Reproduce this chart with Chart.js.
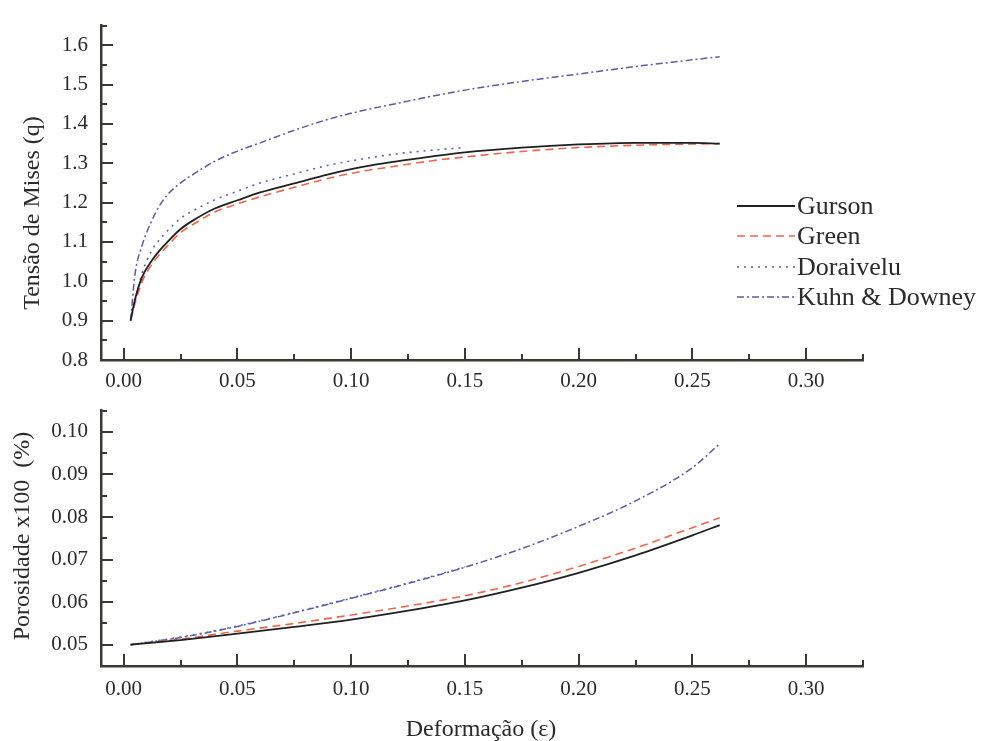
<!DOCTYPE html>
<html>
<head>
<meta charset="utf-8">
<script src="https://cdn.jsdelivr.net/npm/chart.js@4.4.1/dist/chart.umd.min.js"></script>
<style>
  html, body { margin: 0; padding: 0; background: #fff; }
  #wrap { position: relative; width: 983px; height: 741px; overflow: hidden; background: #fff; }
  canvas { position: absolute; left: 0; }
  #stress { top: 0; }
  #porosity { top: 385px; }
</style>
</head>
<body>
<div id="wrap">
  <canvas id="stress" width="983" height="400" style="width:983px;height:400px"></canvas>
  <canvas id="porosity" width="983" height="356" style="width:983px;height:356px"></canvas>
</div>
<script>
// ---- strain grids ----
const strainTop = [0.003, 0.005, 0.008, 0.012, 0.016, 0.020, 0.025, 0.030, 0.040, 0.050, 0.060,
                   0.075, 0.090, 0.105, 0.120, 0.135, 0.150, 0.175, 0.200, 0.225, 0.250, 0.262];
const strainBottom = [0.003, 0.025, 0.050, 0.075, 0.100, 0.125, 0.150, 0.175, 0.200, 0.225, 0.250, 0.262];

// ---- von Mises stress (q) ----
const qGurson    = [0.900, 0.955, 1.010, 1.050, 1.080, 1.105, 1.133, 1.153, 1.185, 1.206, 1.226,
                    1.249, 1.272, 1.291, 1.305, 1.317, 1.328, 1.340, 1.348, 1.352, 1.352, 1.350];
const qGreen     = [0.900, 0.945, 0.998, 1.040, 1.070, 1.095, 1.124, 1.143, 1.176, 1.197, 1.215,
                    1.239, 1.262, 1.280, 1.293, 1.306, 1.316, 1.330, 1.340, 1.346, 1.349, 1.350];
const qDoraivelu = [0.900, 0.950, 1.020, 1.075, 1.108, 1.133, 1.160, 1.178, 1.207, 1.229, 1.250,
                    1.273, 1.295, 1.311, 1.324, 1.333, 1.340];
const qKuhn      = [0.900, 1.020, 1.090, 1.150, 1.195, 1.225, 1.250, 1.270, 1.305, 1.331, 1.352,
                    1.384, 1.412, 1.434, 1.452, 1.470, 1.486, 1.508, 1.527, 1.546, 1.563, 1.571];

// ---- porosity x100 (%) ----
const fGurson    = [0.0500, 0.0511, 0.0526, 0.0542, 0.0559, 0.0580, 0.0604, 0.0634, 0.0669, 0.0710, 0.0757, 0.0781];
const fGreen     = [0.0500, 0.0513, 0.0532, 0.0550, 0.0570, 0.0591, 0.0615, 0.0646, 0.0684, 0.0727, 0.0775, 0.0798];
const fDoraivelu = [0.0500, 0.0518, 0.0544, 0.0576, 0.0610, 0.0645, 0.0683];
const fKuhn      = [0.0500, 0.0517, 0.0543, 0.0575, 0.0609, 0.0644, 0.0682, 0.0726, 0.0778, 0.0838, 0.0916, 0.0972];

// ---- tick labels ----
const strainTicks = [0.00, 0.05, 0.10, 0.15, 0.20, 0.25, 0.30];
const stressTicks = [0.8, 0.9, 1.0, 1.1, 1.2, 1.3, 1.4, 1.5, 1.6];
const porosityTicks = [0.05, 0.06, 0.07, 0.08, 0.09, 0.10];

const seriesNames = ['Gurson', 'Green', 'Doraivelu', 'Kuhn & Downey'];

const AXIS = '#3a3a33';
const TEXT = '#2b2b2b';
const SERIF = '"Liberation Serif", "Times New Roman", serif';

const styles = [
  { borderColor: '#1f1f1f', borderWidth: 1.8, borderDash: [] },
  { borderColor: '#f0644a', borderWidth: 1.6, borderDash: [8, 5] },
  { borderColor: '#5566bb', borderWidth: 1.6, borderDash: [2, 5] },
  { borderColor: '#5a5aa6', borderWidth: 1.5, borderDash: [7, 3, 2, 3] }
];

function points(xs, ys) {
  return ys.map((y, i) => ({ x: xs[i], y: y }));
}

function makeDatasets(xs, seriesList) {
  return seriesList.map((ys, i) => Object.assign({
    label: seriesNames[i],
    data: points(xs, ys),
    pointRadius: 0,
    fill: false,
    cubicInterpolationMode: 'monotone'
  }, styles[i]));
}

// inward major/minor tick marks along both axes
const tickMarks = {
  id: 'tickMarks',
  afterDraw(chart, args, opts) {
    const ctx = chart.ctx, a = chart.chartArea;
    ctx.save();
    ctx.strokeStyle = AXIS;
    ctx.lineWidth = 2;
    const marks = (scale, major, minor, horizontal) => {
      const eps = 1e-9;
      const k0 = Math.ceil(scale.min / minor - eps), k1 = Math.floor(scale.max / minor + eps);
      for (let k = k0; k <= k1; k++) {
        const v = k * minor;
        const r = v / major;
        const isMajor = Math.abs(r - Math.round(r)) < 1e-6;
        const len = isMajor ? 12 : 6;
        const p = Math.round(scale.getPixelForValue(v));
        ctx.beginPath();
        if (horizontal) { ctx.moveTo(p, a.bottom); ctx.lineTo(p, a.bottom - len); }
        else { ctx.moveTo(a.left, p); ctx.lineTo(a.left + len, p); }
        ctx.stroke();
      }
    };
    marks(chart.scales.x, opts.xMajor, opts.xMinor, true);
    marks(chart.scales.y, opts.yMajor, opts.yMinor, false);
    ctx.restore();
  }
};

// axis titles placed beside the plot
const axisTitles = {
  id: 'axisTitles',
  afterDraw(chart, args, opts) {
    const ctx = chart.ctx;
    (opts.items || []).forEach(t => {
      ctx.save();
      ctx.fillStyle = TEXT;
      ctx.font = t.font;
      ctx.textAlign = 'center';
      ctx.textBaseline = 'middle';
      ctx.translate(t.x, t.y);
      if (t.rotate) ctx.rotate(-Math.PI / 2);
      ctx.fillText(t.text, 0, 0);
      ctx.restore();
    });
  }
};

// series key to the right of the stress plot
const seriesKey = {
  id: 'seriesKey',
  afterDraw(chart, args, opts) {
    if (!opts.display) return;
    const ctx = chart.ctx;
    chart.data.datasets.forEach((ds, i) => {
      const y = opts.rows[i];
      ctx.save();
      ctx.strokeStyle = ds.borderColor;
      ctx.lineWidth = ds.borderWidth;
      ctx.setLineDash(ds.borderDash || []);
      ctx.beginPath();
      ctx.moveTo(opts.x0, y);
      ctx.lineTo(opts.x1, y);
      ctx.stroke();
      ctx.setLineDash([]);
      ctx.fillStyle = TEXT;
      ctx.font = opts.font;
      ctx.textAlign = 'left';
      ctx.textBaseline = 'middle';
      ctx.fillText(ds.label, opts.tx, y + 1);
      ctx.restore();
    });
  }
};

function baseOptions(cfg) {
  return {
    responsive: false,
    animation: false,
    layout: { padding: { left: 0, top: cfg.top, right: 120, bottom: 0 } },
    plugins: {
      legend: { display: false },
      tooltip: { enabled: false },
      tickMarks: cfg.ticks,
      axisTitles: { items: cfg.titles },
      seriesKey: cfg.key || { display: false }
    },
    scales: {
      x: {
        type: 'linear',
        min: -0.01, max: 0.325,
        grid: { display: false, drawTicks: false },
        border: { display: true, color: AXIS, width: 2.5 },
        afterFit(s) { s.height = cfg.xHeight; },
        afterBuildTicks(s) { s.ticks = strainTicks.map(v => ({ value: v })); },
        ticks: {
          padding: cfg.xPad, color: TEXT, maxRotation: 0, autoSkip: false,
          font: { family: SERIF, size: 21 },
          callback: v => Number(v).toFixed(2)
        }
      },
      y: {
        type: 'linear',
        min: cfg.yMin, max: cfg.yMax,
        grid: { display: false, drawTicks: false },
        border: { display: true, color: AXIS, width: 2.5 },
        afterFit(s) { s.width = 101; },
        afterBuildTicks(s) { s.ticks = cfg.yTicks.map(v => ({ value: v })); },
        ticks: {
          padding: 13, color: TEXT, autoSkip: false,
          font: { family: SERIF, size: 21 },
          callback: v => Number(v).toFixed(cfg.yDigits)
        }
      }
    }
  };
}

Chart.register(tickMarks, axisTitles, seriesKey);

new Chart(document.getElementById('stress'), {
  type: 'line',
  data: { datasets: makeDatasets(strainTop, [qGurson, qGreen, qDoraivelu, qKuhn]) },
  options: baseOptions({
    top: 15, xHeight: 40, xPad: 9,
    yMin: 0.8, yMax: 1.65, yTicks: stressTicks, yDigits: 1,
    ticks: { xMajor: 0.05, xMinor: 0.025, yMajor: 0.1, yMinor: 0.05 },
    titles: [{ text: 'Tensão de Mises (q)', x: 33, y: 213, rotate: true, font: '24px ' + SERIF }],
    key: { display: true, x0: 737, x1: 795, tx: 797, rows: [206, 236, 267, 297], font: '26px ' + SERIF }
  })
});

new Chart(document.getElementById('porosity'), {
  type: 'line',
  data: {
    datasets: makeDatasets(strainBottom, [fGurson, fGreen, fDoraivelu, fKuhn])
  },
  options: baseOptions({
    top: 12, xHeight: 75, xPad: 11,
    yMin: 0.045, yMax: 0.105, yTicks: porosityTicks, yDigits: 2,
    ticks: { xMajor: 0.05, xMinor: 0.025, yMajor: 0.01, yMinor: 0.005 },
    titles: [
      { text: 'Porosidade x100  (%)', x: 23, y: 151, rotate: true, font: '24px ' + SERIF },
      { text: 'Deformação (ε)', x: 481, y: 345, rotate: false, font: '24px ' + SERIF }
    ]
  })
});
</script>
</body>
</html>
